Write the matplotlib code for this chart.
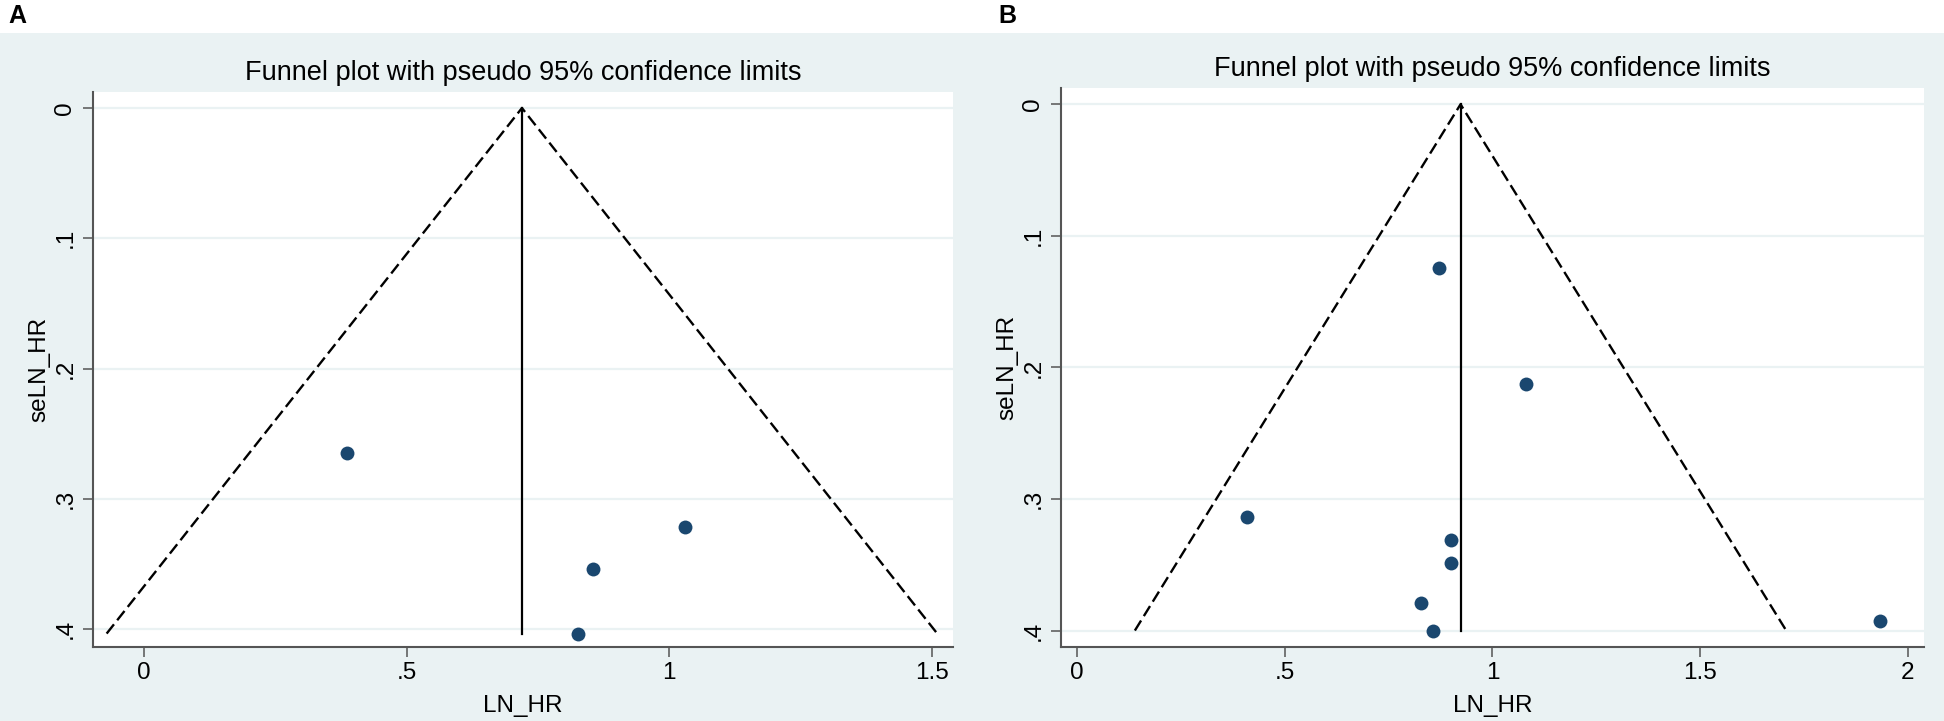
import matplotlib
matplotlib.use('Agg')
import matplotlib.pyplot as plt
import numpy as np
from matplotlib.patches import Rectangle

plt.rcParams['font.family'] = ['Liberation Sans', 'DejaVu Sans']

# Panel A: log hazard ratio and its standard error
a_ln_hr = [0.387, 1.030, 0.856, 0.827]
a_se = [0.265, 0.322, 0.354, 0.4035]

# Panel B
b_ln_hr = [0.871, 1.082, 0.409, 0.901, 0.901, 0.828, 0.856, 1.934]
b_se = [0.1247, 0.2126, 0.314, 0.331, 0.349, 0.379, 0.400, 0.393]

a_xticks = [0, 0.5, 1, 1.5]
a_xlabels = ['0', '.5', '1', '1.5']
b_xticks = [0, 0.5, 1, 1.5, 2]
b_xlabels = ['0', '.5', '1', '1.5', '2']
yticks = [0, 0.1, 0.2, 0.3, 0.4]
ylabels = ['0', '.1', '.2', '.3', '.4']

BG = '#eaf2f3'
NAVY = '#1a476f'
AXCOL = '#555555'
W, H = 1944, 721


def funnel(ax, x, se, xticks, xlabels, xlim, ylim):
	x = np.asarray(x)
	se = np.asarray(se)
	# fixed-effect pooled estimate
	w = 1 / se ** 2
	theta = np.sum(w * x) / np.sum(w)
	smax = se.max()

	ax.plot([theta - 1.96 * smax, theta, theta + 1.96 * smax], [smax, 0, smax],
			color='black', lw=1.7, dashes=(5, 2.2))
	ax.plot([theta, theta], [0, smax], color='black', lw=1.6)
	ax.plot(x, se, 'o', color=NAVY, ms=10, mec='none')

	ax.set_xlim(*xlim)
	ax.set_ylim(*ylim)
	ax.set_xticks(xticks, xlabels)
	ax.set_yticks(yticks, ylabels)
	ax.tick_params(axis='y', labelrotation=90, pad=5)
	for lbl in ax.get_yticklabels():
		lbl.set_va('center')
	ax.tick_params(axis='x', pad=4)
	ax.tick_params(length=7, width=1.1, color=AXCOL, labelsize=17.5, direction='out')

	ax.yaxis.grid(True, color=BG, lw=1.6)
	ax.set_axisbelow(True)
	for side in ['top', 'right']:
		ax.spines[side].set_visible(False)
	for side in ['left', 'bottom']:
		ax.spines[side].set_color(AXCOL)
		ax.spines[side].set_linewidth(1.5)

	ax.set_title('Funnel plot with pseudo 95% confidence limits', fontsize=19.5, pad=8.5)
	ax.set_xlabel('LN_HR', fontsize=17.5, labelpad=8)
	ax.set_ylabel('seLN_HR', fontsize=17.5, labelpad=3)


fig = plt.figure(figsize=(W / 100, H / 100), dpi=100, facecolor='white')
fig.add_artist(Rectangle((0, 0), 1, (H - 33) / H, transform=fig.transFigure,
						 facecolor=BG, edgecolor='none', zorder=0))

ax_a = fig.add_axes([93 / W, 74 / H, 860 / W, 555 / H])
funnel(ax_a, a_ln_hr, a_se, a_xticks, a_xlabels, (-0.0971, 1.5406), (0.4138, -0.0123))

ax_b = fig.add_axes([1061 / W, 74 / H, 863 / W, 559 / H])
funnel(ax_b, b_ln_hr, b_se, b_xticks, b_xlabels, (-0.0385, 2.039), (0.4125, -0.0124))

fig.text(8 / W, 1 - 16 / H, 'A', fontsize=18, fontweight='bold', va='center', ha='left')
fig.text(998 / W, 1 - 16 / H, 'B', fontsize=18, fontweight='bold', va='center', ha='left')

fig.savefig('out.png', dpi=100)
